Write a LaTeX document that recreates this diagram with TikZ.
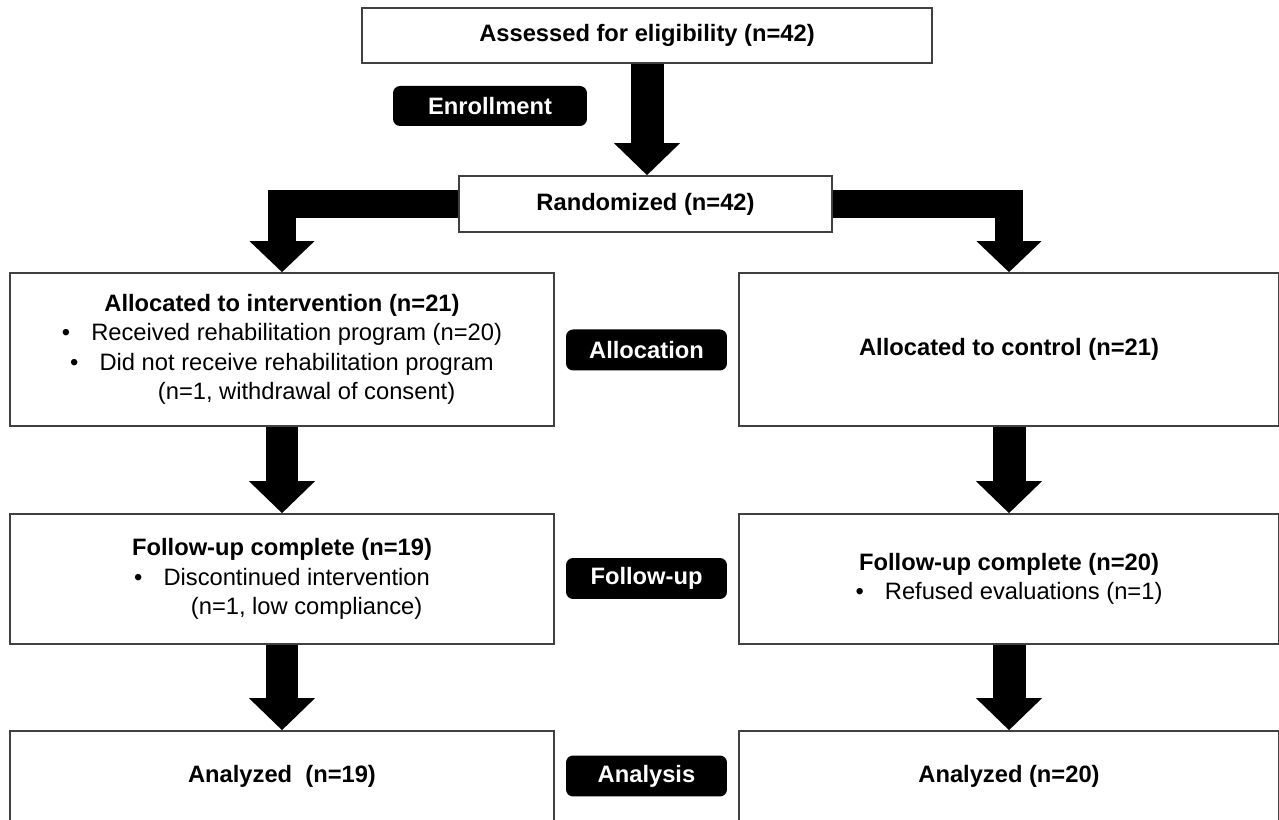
\documentclass[tikz,border=0pt]{standalone}
\usepackage{fontspec}
\setmainfont{Liberation Sans}
\usetikzlibrary{arrows.meta}

\begin{document}
\begin{tikzpicture}[x=0.02cm, y=-0.02cm,
        box/.style={draw=black!75, line width=0.9pt, fill=white, align=center,
            inner sep=0pt, font=\fontsize{13.5}{16.7}\selectfont},
        tag/.style={fill=black, rounded corners=4pt, text=white,
            font=\fontsize{13.5}{16}\selectfont\bfseries,
            minimum width=3.22cm, minimum height=0.82cm},
        fat/.style={line width=0.66cm, -{Triangle[width=1.28cm, length=0.64cm]}},
        elbow/.style={line width=0.56cm, line join=miter,
            -{Triangle[width=1.26cm, length=0.62cm]}}]

        \useasboundingbox (0,0) rectangle (1279,820);
        \clip (0,0) rectangle (1279,820);

        % enrollment
        \node[box, minimum width=11.4cm, minimum height=1.1cm] (assess) at (647,35.5)
            {\bfseries Assessed for eligibility (n=42)};
        \node[box, minimum width=7.46cm, minimum height=1.12cm] (rand) at (645.5,204)
            {\bfseries Randomized (n=42)};
        \node[tag, minimum width=3.88cm, minimum height=0.8cm] (enrol) at (490,106) {Enrollment};

        % intervention arm
        \node[box, minimum width=10.88cm, minimum height=3.06cm] (intA) at (282,349.5)
            {{\bfseries Allocated to intervention (n=21)}\\
             \textbullet\hspace{12pt}Received rehabilitation program (n=20)\\
             \textbullet\hspace{12pt}Did not receive rehabilitation program\\
             \hspace{28pt}(n=1, withdrawal of consent)};
        \node[box, minimum width=10.88cm, minimum height=2.6cm] (intF) at (282,579)
            {{\bfseries Follow-up complete (n=19)}\\
             \textbullet\hspace{12pt}Discontinued intervention\\
             \hspace{28pt}(n=1, low compliance)};
        \node[box, minimum width=10.88cm, minimum height=1.82cm] (intN) at (282,776.5)
            {\bfseries Analyzed \ (n=19)};

        % control arm
        \node[box, minimum width=10.8cm, minimum height=3.06cm] (ctlA) at (1009,349.5)
            {\bfseries Allocated to control (n=21)};
        \node[box, minimum width=10.8cm, minimum height=2.6cm] (ctlF) at (1009,579)
            {{\bfseries Follow-up complete (n=20)}\\
             \textbullet\hspace{12pt}Refused evaluations (n=1)};
        \node[box, minimum width=10.8cm, minimum height=1.82cm] (ctlN) at (1009,776.5)
            {\bfseries Analyzed (n=20)};

        % stage tags
        \foreach \y/\n/\t in {350/alloc/Allocation, 578.5/follow/Follow-up, 776/anal/Analysis} {
            \node[tag] (\n) at (646.5,\y) {\t};
        }

        % arrows
        \draw[fat] (assess.south) -- (assess.south |- rand.north);
        \draw[elbow] (rand.west) -| (intA.north);
        \draw[elbow] (rand.east) -| (ctlA.north);
        \foreach \a/\b in {intA/intF, intF/intN, ctlA/ctlF, ctlF/ctlN} {
            \draw[fat] (\a.south) -- (\b.north);
        }

\end{tikzpicture}
\end{document}
